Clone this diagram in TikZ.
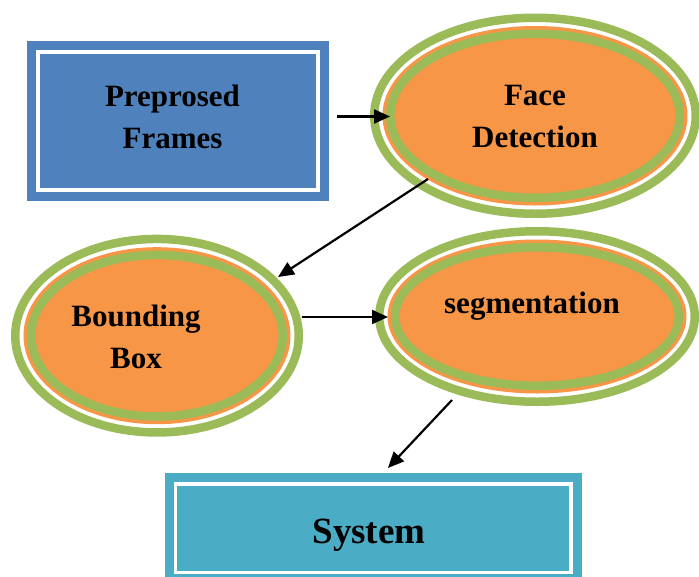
\documentclass[tikz,border=0pt]{standalone}
\usepackage{fontspec}
\setmainfont{Liberation Serif}
\usetikzlibrary{arrows.meta,calc,shapes.geometric}
\definecolor{cblue}{HTML}{4F81BD}
\definecolor{corange}{HTML}{F79646}
\definecolor{cgreen}{HTML}{9BBB59}
\definecolor{cteal}{HTML}{4BACC6}
\newcommand{\mylines}[1]{\begin{tabular}[t]{@{}c@{}}#1\end{tabular}}
\tikzset{
  lbl/.style={font=\bfseries\fontsize{31}{42}\selectfont, text=black},
  framed/.style={rectangle, draw=#1, fill=#1, double=white, double distance=3.5pt,
    line width=9.25pt, inner sep=0pt, lbl},
  ringed/.style 2 args={ellipse, draw=cgreen, line width=8.5pt, fill=white, inner sep=0pt, lbl,
    minimum width={(2*#1-8.5)*1pt}, minimum height={(2*#2-8.5)*1pt},
    path picture={
      \fill[corange] (path picture bounding box.center) ellipse [x radius={(#1-12.5)*1pt}, y radius={(#2-12.5)*1pt}];
      \draw[cgreen, line width=8.5pt] (path picture bounding box.center) ellipse [x radius={(#1-20.25)*1pt}, y radius={(#2-20.25)*1pt}];
    }},
  arr/.style={draw=black, line width=2.2pt, -{Triangle[length=16pt,width=14pt]}},
}
\begin{document}
\begin{tikzpicture}[x=1pt, y=-1pt]
\useasboundingbox (0,0) rectangle (699,576);

\node[framed=cblue, minimum width=280pt, minimum height=138pt, text height=30pt, text depth=60pt]
  (pp) at (178,121) {\mylines{Preprosed\\Frames}\hspace*{11pt}};

\node[ringed={165}{102.25}, text height=30pt, text depth=51.5pt]
  (fd) at (535,115.75) {\mylines{Face\\Detection}};

\node[ringed={146}{101}, text height=30pt, text depth=49.4pt]
  (bb) at (157,335.7) {\mylines{Bounding\\Box}\hspace*{42pt}};

\node[ringed={162}{89.5}, text height=25pt, text depth=32pt]
  (sg) at (537,316.5) {\mylines{segmentation}\hspace*{10pt}};

\node[framed=cteal, minimum width=395.5pt, minimum height=88.5pt, text height=36pt, text depth=6.5pt,
  font=\bfseries\fontsize{37}{44}\selectfont]
  (sys) at (373.25,528.25) {System\hspace*{8.5pt}};

\draw[arr] ($(pp.center)+(159,-4.5)$) -- ($(fd.center)+(-145,0.75)$);
\draw[arr] ($(fd.center)+(-107,63.25)$) -- ($(bb.center)+(121,-58.7)$);
\draw[arr] ($(bb.center)+(145,-18.7)$) -- ($(sg.center)+(-149,0.5)$);
\draw[arr] ($(sg.center)+(-85,83.5)$) -- ($(sys.center)+(14.75,-60.25)$);
\end{tikzpicture}
\end{document}
